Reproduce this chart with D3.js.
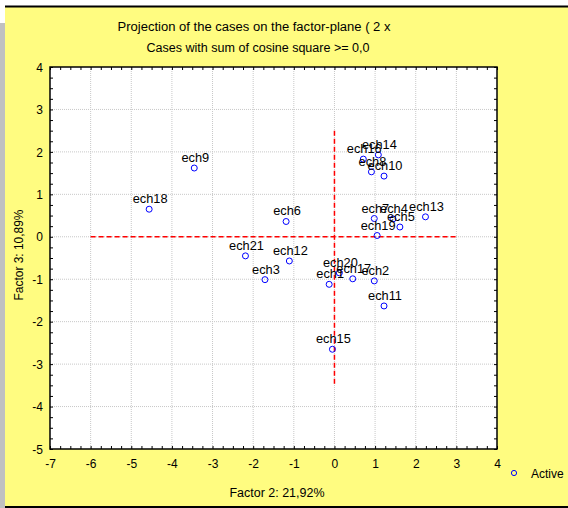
<!DOCTYPE html>
<html>
<head>
<meta charset="utf-8">
<script src="https://cdn.jsdelivr.net/npm/d3@7"></script>
<style>
  html, body { margin: 0; padding: 0; background: #ffffff; }
  svg { display: block; }
  text { font-family: "Liberation Sans", Arial, sans-serif; fill: #000; }
</style>
</head>
<body>
<script>
// ---- data ----
const caseNames = ["ech1","ech2","ech3","ech4","ech5","ech6","ech7","ech8","ech9","ech10","ech11",
                   "ech12","ech13","ech14","ech15","ech16","ech17","ech18","ech19","ech20","ech21"];
const factor2 = [-0.13, 0.98, -1.71, 1.44, 1.61, -1.19, 0.98, 0.91, -3.45, 1.22, 1.22,
                 -1.11, 2.24, 1.08, -0.05, 0.71, 0.45, -4.56, 1.05, 0.12, -2.19];
const factor3 = [-1.12, -1.04, -1.01, 0.42, 0.23, 0.36, 0.43, 1.53, 1.62, 1.43, -1.63,
                 -0.57, 0.47, 1.93, -2.65, 1.83, -0.99, 0.65, 0.03, -0.85, -0.45];
const xTicks = [-7, -6, -5, -4, -3, -2, -1, 0, 1, 2, 3, 4];
const yTicks = [4, 3, 2, 1, 0, -1, -2, -3, -4, -5];
const xDomain = [-7, 4];
const yDomain = [-5, 4];
const hRefLine = [-6, 3];     // horizontal red dashed line extent (x values, at y=0)
const vRefLine = [-3.5, 2.5]; // vertical red dashed line extent (y values, at x=0)
const titleLines = ["Projection of the cases on the factor-plane (  2 x", "Cases with sum of cosine square >=  0,0"];
const xTitle = "Factor 2: 21,92%";
const yTitle = "Factor 3: 10,89%";
const legendLabel = "Active";

// ---- layout ----
const W = 568, H = 508;
const L = 50, R = 497, T = 67, B = 449;

const svg = d3.select("body").append("svg").attr("width", W).attr("height", H);

// backgrounds
svg.append("rect").attr("x", 0).attr("y", 0).attr("width", W).attr("height", H).attr("fill", "#ffffff");
svg.append("rect").attr("x", 0).attr("y", 23).attr("width", 5).attr("height", H - 23).attr("fill", "#c0c0c0");
svg.append("rect").attr("x", 5).attr("y", 7).attr("width", W - 5).attr("height", 499).attr("fill", "#fffc80");
svg.append("line").attr("x1", 5).attr("x2", W).attr("y1", 6.5).attr("y2", 6.5).attr("stroke", "#000").attr("stroke-width", 2);
svg.append("line").attr("x1", 5).attr("x2", W).attr("y1", 507).attr("y2", 507).attr("stroke", "#000").attr("stroke-width", 2);

const x = d3.scaleLinear().domain(xDomain).range([L, R]);
const y = d3.scaleLinear().domain(yDomain).range([B, T]);

// plot area
svg.append("rect").attr("x", L).attr("y", T).attr("width", R - L).attr("height", B - T).attr("fill", "#ffffff");

// grid
const grid = svg.append("g");
grid.selectAll("line.gx").data(xTicks.filter(v => v > xDomain[0] && v < xDomain[1])).join("line")
  .attr("x1", d => x(d)).attr("x2", d => x(d)).attr("y1", T).attr("y2", B)
  .attr("stroke", "#c8c8c8").attr("stroke-width", 1).attr("stroke-dasharray", "1,1");
grid.selectAll("line.gy").data(yTicks.filter(v => v > yDomain[0] && v < yDomain[1])).join("line")
  .attr("x1", L).attr("x2", R).attr("y1", d => y(d)).attr("y2", d => y(d))
  .attr("stroke", "#c8c8c8").attr("stroke-width", 1).attr("stroke-dasharray", "1,1");

// axes with inward ticks (major + minor) on all four sides
const minorX = d3.range(xDomain[0], xDomain[1] + 0.001, 0.25);
const minorY = d3.range(yDomain[0], yDomain[1] + 0.001, 0.25);
function styleAxis(g) {
  g.select(".domain").remove();
  g.selectAll(".tick line").attr("stroke", "#000").attr("stroke-width", 1);
}
svg.append("g").attr("transform", `translate(0,${B})`)
  .call(d3.axisTop(x).tickValues(minorX).tickSize(3).tickFormat("")).call(styleAxis);
svg.append("g").attr("transform", `translate(0,${T})`)
  .call(d3.axisBottom(x).tickValues(minorX).tickSize(3).tickFormat("")).call(styleAxis);
svg.append("g").attr("transform", `translate(${L},0)`)
  .call(d3.axisRight(y).tickValues(minorY).tickSize(3).tickFormat("")).call(styleAxis);
svg.append("g").attr("transform", `translate(${R},0)`)
  .call(d3.axisLeft(y).tickValues(minorY).tickSize(3).tickFormat("")).call(styleAxis);

// major tick labels
const xAx = svg.append("g").attr("transform", `translate(0,${B})`)
  .call(d3.axisBottom(x).tickValues(xTicks).tickSize(0).tickPadding(0).tickFormat(d => String(d)));
xAx.select(".domain").remove();
xAx.selectAll("text").attr("y", 19).attr("dy", null).style("font-size", "12px")
  .style("font-family", "'Liberation Sans', Arial, sans-serif").attr("fill", "#000");

const yAx = svg.append("g").attr("transform", `translate(${L},0)`)
  .call(d3.axisLeft(y).tickValues(yTicks).tickSize(0).tickPadding(0).tickFormat(d => String(d)));
yAx.select(".domain").remove();
yAx.selectAll("text").attr("x", -7).attr("dy", "0.35em").style("font-size", "12px")
  .style("font-family", "'Liberation Sans', Arial, sans-serif").attr("fill", "#000");

// frame
svg.append("rect").attr("x", L).attr("y", T).attr("width", R - L).attr("height", B - T)
  .attr("fill", "none").attr("stroke", "#000").attr("stroke-width", 1.5);

// red dashed reference lines
svg.append("line").attr("x1", x(hRefLine[0])).attr("x2", x(hRefLine[1])).attr("y1", y(0)).attr("y2", y(0))
  .attr("stroke", "#ff0000").attr("stroke-width", 1.5).attr("stroke-dasharray", "5,3");
svg.append("line").attr("x1", x(0)).attr("x2", x(0)).attr("y1", y(vRefLine[1])).attr("y2", y(vRefLine[0]))
  .attr("stroke", "#ff0000").attr("stroke-width", 1.5).attr("stroke-dasharray", "5,3");

// points
const pts = caseNames.map((n, i) => ({ name: n, fx: factor2[i], fy: factor3[i] }));
svg.append("g").selectAll("circle").data(pts).join("circle")
  .attr("cx", d => x(d.fx)).attr("cy", d => y(d.fy)).attr("r", 3)
  .attr("fill", "none").attr("stroke", "#0000ff").attr("stroke-width", 1);

// labels
svg.append("g").selectAll("text").data(pts).join("text")
  .attr("x", d => x(d.fx) + 1).attr("y", d => y(d.fy) - 6)
  .attr("text-anchor", "middle").style("font-size", "12.8px").text(d => d.name);

// titles
svg.append("text").attr("x", 254).attr("y", 31).attr("text-anchor", "middle")
  .attr("textLength", 273).attr("lengthAdjust", "spacingAndGlyphs")
  .style("font-size", "12.5px").text(titleLines[0]);
svg.append("text").attr("x", 258).attr("y", 52).attr("text-anchor", "middle")
  .attr("textLength", 223).attr("lengthAdjust", "spacingAndGlyphs")
  .style("font-size", "12.5px").text(titleLines[1]);

// axis titles
svg.append("text").attr("x", 277).attr("y", 497).attr("text-anchor", "middle")
  .attr("textLength", 95).attr("lengthAdjust", "spacingAndGlyphs")
  .style("font-size", "12.5px").text(xTitle);
svg.append("text").attr("transform", "translate(23,255) rotate(-90)").attr("text-anchor", "middle")
  .attr("textLength", 91).attr("lengthAdjust", "spacingAndGlyphs")
  .style("font-size", "12.5px").text(yTitle);

// legend
svg.append("circle").attr("cx", 514).attr("cy", 473).attr("r", 2.6)
  .attr("fill", "none").attr("stroke", "#0000ff").attr("stroke-width", 1);
svg.append("text").attr("x", 531).attr("y", 478).style("font-size", "12px").text(legendLabel);
</script>
</body>
</html>
